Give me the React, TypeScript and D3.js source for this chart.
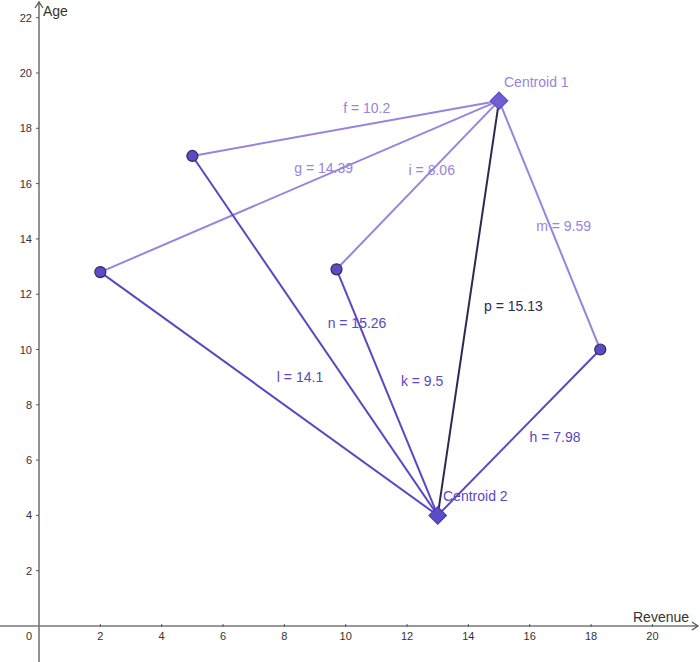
import React from 'react';
import * as d3 from 'd3';

// observations (Revenue, Age)
const pointNames = ['A', 'B', 'C', 'D'];
const pointX = [2, 5, 9.7, 18.3];
const pointY = [12.8, 17, 12.9, 10];

const centroidNames = ['Centroid 1', 'Centroid 2'];
const centroidX = [15, 13];
const centroidY = [19, 4];

// segments: from point index / centroid index, label text
const segFrom = ['B', 'A', 'C', 'D', 'A', 'B', 'C', 'D', 'C1'];
const segTo = ['C1', 'C1', 'C1', 'C1', 'C2', 'C2', 'C2', 'C2', 'C2'];
const segLabels = ['f = 10.2', 'g = 14.39', 'i = 8.06', 'm = 9.59', 'l = 14.1', 'n = 15.26', 'k = 9.5', 'h = 7.98', 'p = 15.13'];

const xTicks = [2, 4, 6, 8, 10, 12, 14, 16, 18, 20];
const yTicks = [2, 4, 6, 8, 10, 12, 14, 16, 18, 20, 22];

// label placement relative to segment midpoint (px)
const labelOffset: Record<string, [number, number]> = {
  f: [21, -20], g: [24, -18], i: [14, -15], m: [14, 1],
  l: [31, -17], n: [42, -13], k: [35, -11], h: [36, 5], p: [45, -2],
};

const W = 700;
const H = 662;
const light = '#9a83dc';
const dark = '#5b47c2';
const black = '#2e2a4f';
const font = '"Liberation Sans", Arial, sans-serif';

const x = d3.scaleLinear().domain([0, 20]).range([39, 652.4]);
const y = d3.scaleLinear().domain([0, 22]).range([626, 17.7]);

function coord(key: string): [number, number] {
  if (key === 'C1') return [centroidX[0], centroidY[0]];
  if (key === 'C2') return [centroidX[1], centroidY[1]];
  const i = pointNames.indexOf(key);
  return [pointX[i], pointY[i]];
}

export default function App() {
  const x0 = x(0);
  const y0 = y(0);
  const diamond = d3.symbol().type(d3.symbolDiamond2 ?? d3.symbolSquare2).size(200)();

  return (
    <svg width={W} height={H} style={{ position: 'absolute', left: 0, top: 0, background: '#fff' }}>
      {/* axes */}
      <line x1={x0} x2={x0} y1={2} y2={H} stroke="#777" strokeWidth={1.6} />
      <line x1={0} x2={W - 2} y1={y0} y2={y0} stroke="#777" strokeWidth={1.6} />
      <path d={`M${x0 - 4},${8} L${x0},${2} L${x0 + 4},${8}`} fill="none" stroke="#555" strokeWidth={1.3} />
      <path d={`M${W - 8},${y0 - 4} L${W - 2},${y0} L${W - 8},${y0 + 4}`} fill="none" stroke="#555" strokeWidth={1.3} />
      {xTicks.map(t => (
        <g key={'x' + t}>
          <line x1={x(t)} x2={x(t)} y1={y0 - 2} y2={y0 + 1} stroke="#555" />
          <text x={x(t)} y={y0 + 10} textAnchor="middle" dominantBaseline="central"
            fontFamily={font} fontSize={11} fill="#333">{t}</text>
        </g>
      ))}
      <text x={29} y={y0 + 10} textAnchor="middle" dominantBaseline="central"
        fontFamily={font} fontSize={11} fill="#333">0</text>
      {yTicks.map(t => (
        <g key={'y' + t}>
          <line x1={x0 - 3} x2={x0} y1={y(t)} y2={y(t)} stroke="#555" />
          <text x={x0 - 7} y={y(t)} textAnchor="end" dominantBaseline="central"
            fontFamily={font} fontSize={11} fill="#333">{t}</text>
        </g>
      ))}
      <text x={43} y={11} dominantBaseline="central" fontFamily={font} fontSize={14} fill="#333">Age</text>
      <text x={633} y={617} dominantBaseline="central" fontFamily={font} fontSize={14} fill="#333">Revenue</text>

      {/* segments */}
      {segFrom.map((f, i) => {
        const a = coord(f);
        const b = coord(segTo[i]);
        const col = f === 'C1' ? black : segTo[i] === 'C1' ? light : dark;
        return (
          <line key={'s' + i} x1={x(a[0])} y1={y(a[1])} x2={x(b[0])} y2={y(b[1])}
            stroke={col} strokeWidth={2} />
        );
      })}
      {segFrom.map((f, i) => {
        const a = coord(f);
        const b = coord(segTo[i]);
        const col = f === 'C1' ? black : segTo[i] === 'C1' ? light : dark;
        const name = segLabels[i].split(' ')[0];
        const off = labelOffset[name];
        const mx = (x(a[0]) + x(b[0])) / 2 + off[0];
        const my = (y(a[1]) + y(b[1])) / 2 + off[1];
        return (
          <text key={'l' + i} x={mx} y={my} textAnchor="middle" dominantBaseline="central"
            fontFamily={font} fontSize={14} fill={col}>{segLabels[i]}</text>
        );
      })}

      {/* points */}
      {pointX.map((px, i) => (
        <circle key={'p' + i} cx={x(px)} cy={y(pointY[i])} r={5.5}
          fill="#5a4cc4" stroke="#2e2a5a" strokeWidth={1.2} />
      ))}

      {/* centroids */}
      {centroidX.map((cx, i) => (
        <g key={'c' + i} transform={`translate(${x(cx)},${y(centroidY[i])})`}>
          <path d={d3.symbol().type(d3.symbolSquare).size(150)() as string}
            transform="rotate(45)" fill={i === 0 ? '#6f5fd0' : '#5a4cc4'}
            stroke={i === 0 ? '#5a4cc4' : '#4a3cb4'} strokeWidth={1.2} />
        </g>
      ))}
      <text x={504} y={82} dominantBaseline="central" fontFamily={font} fontSize={14} fill={light}>{centroidNames[0]}</text>
      <text x={443} y={496} dominantBaseline="central" fontFamily={font} fontSize={14} fill={dark}>{centroidNames[1]}</text>
    </svg>
  );
}
